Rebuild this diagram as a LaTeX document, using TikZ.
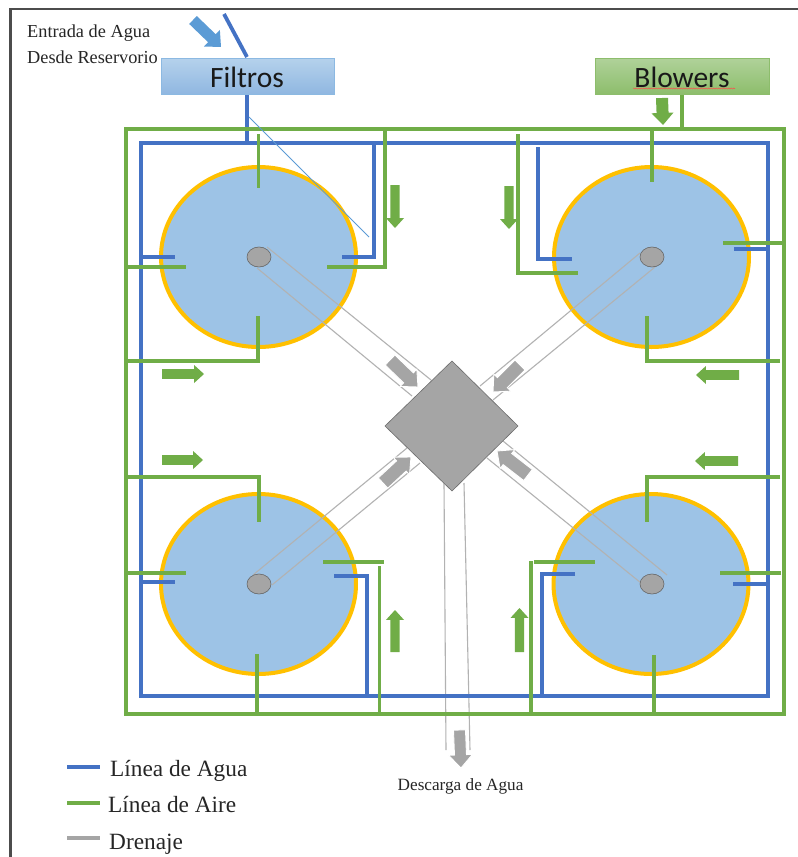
\documentclass[tikz,border=0pt]{standalone}
\usepackage{fontspec}
\setmainfont{Liberation Serif}
\newfontfamily\sansf{Carlito}
\usetikzlibrary{shapes.geometric,decorations.pathmorphing}
\definecolor{wblue}{HTML}{4472C4}
\definecolor{agreen}{HTML}{70AD47}
\definecolor{tankfill}{HTML}{9DC3E6}
\definecolor{tankrim}{HTML}{FFC000}
\definecolor{drain}{HTML}{A5A5A5}
\definecolor{drainline}{HTML}{B2B2B2}
\definecolor{arrowblue}{HTML}{5B9BD5}
\tikzset{
 x=1pt,y=-1pt,
 water/.style={draw=wblue,line width=3.8pt,line join=miter},
 air/.style={draw=agreen,line width=3.8pt,line join=miter},
 tank/.style={draw=tankrim,fill=tankfill,line width=4pt,ellipse,minimum width=195pt,minimum height=180pt,inner sep=0pt},
 hub/.style={draw=gray!80!black,fill=drain,line width=.6pt,ellipse,minimum width=24pt,minimum height=20pt,inner sep=0pt},
 pipe/.style={draw=drainline,line width=1.1pt},
 lbl/.style={font=\fontsize{18.3pt}{20pt}\selectfont,text=black!85,inner sep=0pt,anchor=west},
 lblb/.style={font=\fontsize{17.2pt}{20pt}\selectfont,text=black!85,inner sep=0pt,anchor=west},
 leg/.style={font=\fontsize{23.3pt}{26pt}\selectfont,text=black!85,inner sep=0pt,anchor=west},
 legline/.style={line width=3.8pt},
 boxlbl/.style={font=\sansf\fontsize{29.5pt}{32pt}\selectfont,text=black!90},
 blockblue/.style={fill=arrowblue},
 blockgreen/.style={fill=agreen},
 blockgrey/.style={fill=drain,draw=white,line width=.9pt},
}
% block arrow: tail (#1,#2), tip (#3,#4), shaft half width #5, head half width #6, style #7
\newcommand{\blockarrow}[7]{%
 \begin{scope}[shift={(#1,#2)},rotate={atan2((#2)-(#4),(#3)-(#1))}]
 \pgfmathsetmacro{\alen}{veclen((#3)-(#1),(#4)-(#2))}
 \path[#7] (0,-#5) -- ({\alen-#6*1.1},-#5) -- ({\alen-#6*1.1},-#6) -- (\alen,0) -- ({\alen-#6*1.1},#6) -- ({\alen-#6*1.1},#5) -- (0,#5) -- cycle;
 \end{scope}}
\begin{document}
\begin{tikzpicture}
\useasboundingbox (0,0) rectangle (798,857);
\fill[white] (0,0) rectangle (798,857);
% page edge
\draw[draw=black!70,line width=2.4pt] (10.5,857) -- (10.5,9) -- (798,9);
% tanks
\node[tank] (t1) at (258.5,257) {};
\node[tank] (t2) at (651.5,257) {};
\node[tank] (t3) at (258.5,584) {};
\node[tank] (t4) at (651,584) {};
% centre
\coordinate (dT) at (452,361);
\coordinate (dR) at (518,426);
\coordinate (dB) at (452,491);
\coordinate (dL) at (385,426);
% drains
\draw[pipe] (267,247) -- (431,380);
\draw[pipe] (257,268) -- (412,396);
\draw[pipe] (640,253) -- (480,386);
\draw[pipe] (655,267) -- (493,400);
\draw[pipe] (253,575) -- (407,448);
\draw[pipe] (272,585) -- (420,463);
\draw[pipe] (503,441) -- (667,575);
\draw[pipe] (487,458) -- (641,583);
\draw[pipe] (444,483) -- (446,750);
\draw[pipe] (464,483) -- (470,750);
% hubs
\node[hub] (h1) at (259,257) {};
\node[hub] (h2) at (652,257) {};
\node[hub] (h3) at (259,584) {};
\node[hub] (h4) at (652,584) {};
% water network
\draw[water] (224,14) -- (247,57);
\draw[water] (247,94) -- (247,143);
\draw[water] (141,143) rectangle (768,696);
\draw[water] (374,143) -- (374,257) -- (342,257);
\draw[water] (141,257) -- (175,257);
\draw[water] (538,147) -- (538,259) -- (572,259);
\draw[water] (768,249) -- (734,249);
\draw[water] (141,582) -- (175,582);
\draw[water] (334,576) -- (367,576) -- (367,696);
\draw[water] (575,574) -- (542,574) -- (542,696);
\draw[water] (768,584) -- (733,584);
% air network
\draw[air] (126,129) rectangle (784,714);
\draw[air] (682,94) -- (682,129);
\draw[air] (385,129) -- (385,267) -- (327,267);
\draw[air] (126,267) -- (186,267);
\draw[air] (258.5,134) -- (258.5,188);
\draw[air] (652,129) -- (652,182);
\draw[air] (518,134) -- (518,273) -- (578,273);
\draw[air] (784,243) -- (723,243);
\draw[air] (126,361) -- (258,361) -- (258,316);
\draw[air] (780,361) -- (647,361) -- (647,316);
\draw[air] (126,477) -- (259,477) -- (259,522);
\draw[air] (780,477) -- (647,477) -- (647,522);
\draw[air] (126,573) -- (186,573);
\draw[air] (781,573) -- (720,573);
\draw[air] (323,562) -- (384,562);
\draw[air,line width=3pt] (379,566) -- (379,714);
\draw[air] (534,562) -- (595,562);
\draw[air,line width=3.2pt] (531,561) -- (531,714);
\draw[air] (257,654) -- (257,714);
\draw[air] (654,655) -- (654,714);
% thin blue line
\draw[arrowblue,line width=.8pt] (249,117) -- (369,237);
% diamond
\fill[drain,draw=gray!85!black,line width=.6pt] (dT) -- (dR) -- (dB) -- (dL) -- cycle;
% boxes
\shade[top color=tankfill!75!white,bottom color=tankfill!85!wblue,draw=arrowblue!70!white,line width=1pt] (161,58) rectangle (334,94);
\node[boxlbl] (filt) at (247,77) {Filtros};
\shade[top color=agreen!55!white,bottom color=agreen!80!white,draw=agreen!80!white,line width=1pt] (595,58) rectangle (769.5,94);
\node[boxlbl] (blow) at (682,77) {Blowers};
\draw[red!70,line width=.5pt,decorate,decoration={snake,amplitude=.5pt,segment length=2.5pt}] (633,88.5) -- (735,88.5);
% block arrows
\blockarrow{193}{20}{221}{47}{5.5}{11.5}{blockblue}
\blockarrow{662}{98}{663}{125}{6}{11}{blockgreen}
\blockarrow{395}{185}{395}{228}{4.7}{9}{blockgreen}
\blockarrow{509}{186}{509}{229}{4.7}{9}{blockgreen}
\blockarrow{162}{374}{204}{374}{4.8}{9}{blockgreen}
\blockarrow{162}{460}{203}{460}{4.8}{9}{blockgreen}
\blockarrow{739}{375}{696}{375}{4.8}{9}{blockgreen}
\blockarrow{738}{461}{695}{461}{4.8}{9}{blockgreen}
\blockarrow{395}{652}{395}{610}{4.7}{9}{blockgreen}
\blockarrow{519.5}{652}{519.5}{608}{4.7}{9}{blockgreen}
\blockarrow{390}{360}{418}{387}{7}{12}{blockgrey}
\blockarrow{520}{365}{493}{392}{7}{12}{blockgrey}
\blockarrow{383}{483}{411}{457}{7}{12}{blockgrey}
\blockarrow{528}{475}{497}{451}{7}{12}{blockgrey}
\blockarrow{459.5}{730}{461}{768}{6}{12}{blockgrey}
% text
\node[lbl] (e1) at (27,33) {Entrada de Agua};
\node[lbl] (e2) at (27,57) {Desde Reservorio};
\node[lblb] (d) at (397.5,786) {Descarga de Agua};
\coordinate (la1) at (67,767);\coordinate (la2) at (100,767);
\coordinate (lb1) at (67,803);\coordinate (lb2) at (100,803);
\coordinate (lc1) at (67,838);\coordinate (lc2) at (100,838);
\draw[legline,wblue] (la1) -- (la2);
\draw[legline,agreen] (lb1) -- (lb2);
\draw[legline,drain] (lc1) -- (lc2);
\node[leg] (l1) at (110,771) {Línea de Agua};
\node[leg] (l2) at (108,805) {Línea de Aire};
\node[leg] (l3) at (109,844) {Drenaje};
\end{tikzpicture}
\end{document}
